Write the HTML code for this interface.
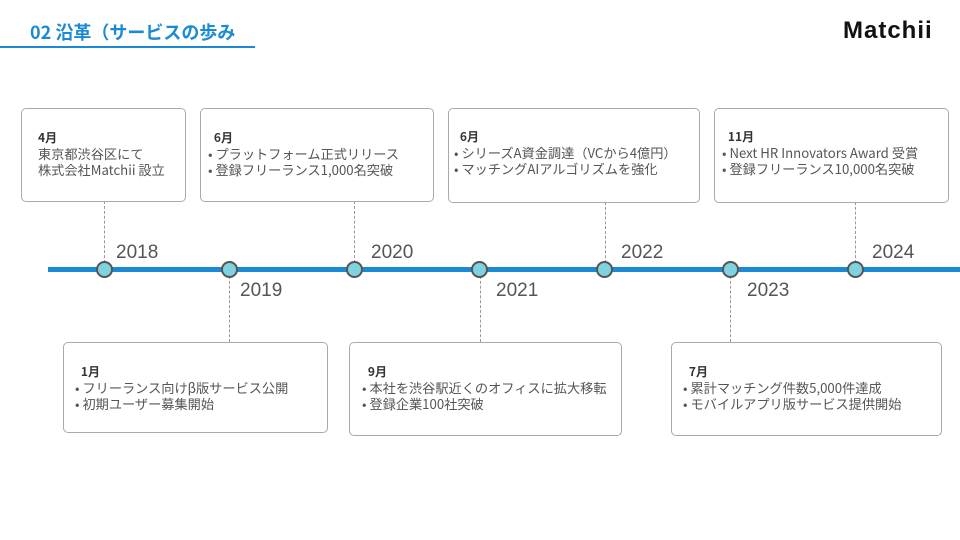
<!DOCTYPE html>
<html><head><meta charset="utf-8"><style>
body{margin:0;width:960px;height:540px;background:#fff;position:relative;overflow:hidden;font-family:"Liberation Sans","Noto Sans CJK JP",sans-serif;color:#444}
.a{position:absolute}
.box{position:absolute;border:1px solid #aaa;border-radius:5px;background:#fff;box-sizing:border-box}
.t{position:absolute;font-size:13.2px;line-height:16px;white-space:nowrap;color:#555;font-family:"Noto Sans CJK JP",sans-serif}
.t b{font-size:12px;color:#333}
.yr{position:absolute;font-size:19px;color:#555}
.dl{position:absolute;width:0;border-left:1px dashed #999}
.c{position:absolute;width:13px;height:13px;border-radius:50%;background:#7fd3e0;border:2.5px solid #555;top:261px}
</style></head><body>
<div class="a" style="left:30px;top:19px;font-size:18px;font-weight:bold;color:#1a8ad4;font-family:'Noto Sans CJK JP',sans-serif;line-height:26px">02 沿革（サービスの歩み</div>
<div class="a" style="left:0;top:46px;width:255px;height:2px;background:#1a8ad4"></div>
<div class="a" style="left:843px;top:17px;font-size:24px;font-weight:bold;color:#111;letter-spacing:1px">Matchii</div>

<div class="dl" style="left:104px;top:201px;height:62px"></div>
<div class="dl" style="left:354px;top:201px;height:62px"></div>
<div class="dl" style="left:605px;top:202px;height:61px"></div>
<div class="dl" style="left:855px;top:202px;height:61px"></div>
<div class="dl" style="left:229px;top:276px;height:66px"></div>
<div class="dl" style="left:480px;top:276px;height:66px"></div>
<div class="dl" style="left:730px;top:276px;height:66px"></div>

<div class="a" style="left:48px;top:267px;width:912px;height:5px;background:#1a8ad4"></div>
<div class="c" style="left:96px"></div>
<div class="c" style="left:221px"></div>
<div class="c" style="left:346px"></div>
<div class="c" style="left:471px"></div>
<div class="c" style="left:596px"></div>
<div class="c" style="left:722px"></div>
<div class="c" style="left:847px"></div>

<div class="yr" style="left:116px;top:242px">2018</div>
<div class="yr" style="left:240px;top:280px">2019</div>
<div class="yr" style="left:371px;top:242px">2020</div>
<div class="yr" style="left:496px;top:280px">2021</div>
<div class="yr" style="left:621px;top:242px">2022</div>
<div class="yr" style="left:747px;top:280px">2023</div>
<div class="yr" style="left:872px;top:242px">2024</div>

<div class="box" style="left:21px;top:108px;width:165px;height:94px"></div>
<div class="t" style="left:38px;top:129px"><b>4月</b><br>東京都渋谷区にて<br>株式会社Matchii 設立</div>
<div class="box" style="left:200px;top:108px;width:234px;height:94px"></div>
<div class="t" style="left:208px;top:129px">&nbsp;&nbsp;<b>6月</b><br>• プラットフォーム正式リリース<br>• 登録フリーランス1,000名突破</div>
<div class="box" style="left:448px;top:108px;width:252px;height:95px"></div>
<div class="t" style="left:454px;top:128px">&nbsp;&nbsp;<b>6月</b><br>• シリーズA資金調達（VCから4億円）<br>• マッチングAIアルゴリズムを強化</div>
<div class="box" style="left:714px;top:108px;width:235px;height:95px"></div>
<div class="t" style="left:722px;top:128px">&nbsp;&nbsp;<b>11月</b><br>• Next HR Innovators Award 受賞<br>• 登録フリーランス10,000名突破</div>

<div class="box" style="left:63px;top:342px;width:265px;height:91px"></div>
<div class="t" style="left:75px;top:363px">&nbsp;&nbsp;<b>1月</b><br>• フリーランス向けβ版サービス公開<br>• 初期ユーザー募集開始</div>
<div class="box" style="left:349px;top:342px;width:273px;height:94px"></div>
<div class="t" style="left:362px;top:363px">&nbsp;&nbsp;<b>9月</b><br>• 本社を渋谷駅近くのオフィスに拡大移転<br>• 登録企業100社突破</div>
<div class="box" style="left:671px;top:342px;width:271px;height:94px"></div>
<div class="t" style="left:683px;top:363px">&nbsp;&nbsp;<b>7月</b><br>• 累計マッチング件数5,000件達成<br>• モバイルアプリ版サービス提供開始</div>
</body></html>
